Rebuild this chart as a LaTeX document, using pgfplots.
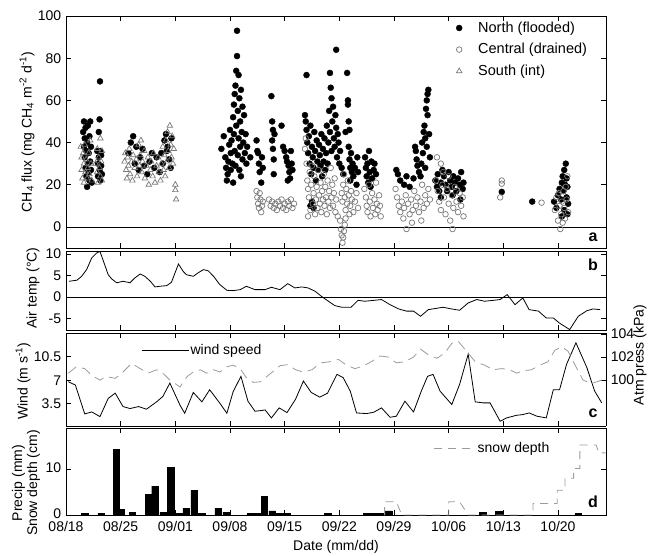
\documentclass[border=0pt]{standalone}
\usepackage{fontspec}
\setmainfont{Liberation Sans}
\usepackage{pgfplots}
\pgfplotsset{compat=1.18}

\definecolor{cgray}{RGB}{120,120,120}
\definecolor{pgray}{RGB}{155,155,155}

\pgfplotsset{
  panel/.style={
    scale only axis, width=540bp,
    xmin=0, xmax=69.15,
    xtick={0,7,...,63}, xticklabels={},
    tick align=inside, major tick length=5bp,
    axis line style={line width=0.9bp},
    every tick/.style={black, line width=0.8bp},
    /pgf/number format/assume math mode=true,
    clip=false,
  },
  zeroline/.style={extra y ticks={0}, extra y tick labels={},
    extra y tick style={grid=major, major grid style={black, line width=0.8bp}}},
}

\begin{document}
\fontsize{14bp}{16bp}\selectfont
\begin{tikzpicture}
\useasboundingbox (0bp,0bp) rectangle (651bp,-556bp);

% ---------- a: CH4 flux ----------
\begin{axis}[panel, at={(66bp,-16bp)}, anchor=north west, height=232bp,
  ymin=-10, ymax=100, ytick={0,20,...,100}, zeroline,
  legend style={at={(rel axis cs:0.70,0.985)}, anchor=north west, draw=none, fill=none,
    inner sep=0pt, row sep=5bp, nodes={inner sep=2bp}, font=\fontsize{14.5bp}{16bp}\selectfont},
  legend cell align=left,
  legend image code/.code={\path[draw=none] (0bp,0bp) (32bp,0bp); \draw[#1] plot coordinates {(15bp,0bp)};}]
\addplot[only marks, mark=*, mark size=3bp, black] coordinates {
(2.2,45)(2.3,50)(2.3,38)(2.4,42)(2.4,33)(2.5,47)(2.5,28)(2.6,36)(2.6,24)(2.7,40)(2.7,19)(2.8,30)(2.8,48)(2.9,26)(2.9,35)(3.0,22)(3.0,43)(3.1,31)(3.1,50)(3.2,27)(3.2,38)(3.3,21)
(4.0,36)(4.1,30)(4.1,24)(4.2,45)(4.2,33)(4.3,27)(4.3,51)(4.35,69)(4.4,22)(4.4,36)(4.5,29)(4.5,34)(4.6,25)
(8.0,35)(8.3,40)(8.6,43)(8.8,30)(9.0,38)(9.3,27)(9.5,33)(9.8,37)(10.0,29)(10.4,25)(10.7,31)(11.0,35)(11.3,28)(11.6,33)(12.0,26)(12.2,35)(12.4,30)(12.6,41)(12.8,44)(12.9,36)(13.0,38)(13.2,32)(13.4,28)(13.5,42)
(19.9,37)(20.2,43)(20.4,33)(20.5,28)(20.6,22)(20.7,25)(20.8,31)(20.9,39)(21.0,46)(21.1,35)(21.1,27)(21.2,41)(21.3,30)(21.4,52)(21.4,21)(21.5,58)(21.5,44)(21.6,63)(21.6,36)(21.7,67)(21.7,29)(21.8,74)(21.8,48)(21.9,81)(21.9,93)(22.0,55)(22.0,34)(22.1,72)(22.1,42)(22.2,61)(22.2,27)(22.3,50)(22.3,38)(22.4,65)(22.4,24)(22.5,45)(22.6,57)(22.6,32)(22.7,40)(22.8,53)(22.9,35)(23.0,44)(23.1,30)(23.2,38)
(23.6,33)
(24.4,41)(24.5,36)(24.6,35)(24.7,30)(24.8,26)(25.0,21)(25.1,33)(25.2,28)
(26.3,62)(26.4,50)(26.4,41)(26.5,46)(26.5,37)(26.6,32)(26.6,25)(26.7,44)
(27.6,48)(27.8,38)(28.0,36)(28.2,33)(28.3,31)(28.5,29)(28.6,26)(28.7,23)(28.8,36)(28.9,30)(29.0,27)(28.4,22)
(30.8,72)(30.6,53)(30.7,50)(30.8,46)(30.9,40)(31.0,35)(31.1,43)(31.2,30)(31.3,48)(31.4,25)(31.5,38)(31.6,33)(31.7,28)(31.8,45)(31.9,36)(32.0,22)(32.1,41)(32.2,31)(32.3,27)(32.4,39)(32.5,34)(32.6,29)(32.7,44)(32.8,24)(32.9,37)(33.0,31)(33.1,42)(33.2,27)(33.3,35)(33.4,48)(33.5,30)(33.6,40)(33.7,55)(33.8,73)(33.8,45)(33.9,66)(34.0,61)(34.0,36)(34.1,50)(34.2,57)(34.3,42)(34.4,38)(34.5,53)(34.6,84)(34.6,47)(34.7,33)(34.8,44)(34.9,40)(35.0,30)(35.1,36)(35.3,28)(35.5,25)(35.8,45)(36.0,73)(36.1,60)(36.1,58)(36.2,50)(36.2,38)(36.3,32)(36.3,46)(36.4,28)(36.4,22)(36.5,35)(36.6,26)(36.7,30)(36.8,24)(37.0,28)(37.2,20)(37.3,33)(37.4,26)
(31.3,10)(31.5,12)(31.7,9)
(38.3,33)(38.4,28)(38.5,24)(38.6,30)(38.7,21)(38.8,36)(38.9,26)(39.0,19)(39.1,31)(39.2,23)(39.4,27)(39.5,30)(39.7,25)
(42.3,27)(42.5,25)(42.8,22)(43.3,20)(43.6,24)(44.0,19)(44.5,23)(44.7,38)(44.8,36)(44.9,32)(45.0,29)(45.2,26)(45.4,24)(45.5,30)(45.6,40)(45.7,35)(45.8,45)(45.9,48)(46.0,42)(46.1,56)(46.2,60)(46.3,63)(46.4,65)(46.3,53)(46.5,44)(46.6,33)(46.0,28)(46.2,38)
(47.3,22)(47.5,19)(47.6,25)(47.8,17)(48.0,21)(48.2,27)(48.4,24)(48.6,20)(48.8,17)(49.0,26)(49.2,22)(49.4,19)(49.6,24)(49.8,21)(50.0,17)(50.2,23)(50.4,20)(50.6,26)(50.8,18)(50.9,21)(48.0,14)(49.5,15)(50.5,13)
(55.8,16.6)(59.7,12)
(62.5,12)(62.8,9)(63.0,15)(63.2,18)(63.4,13)(63.5,21)(63.6,24)(63.7,17)(63.8,27)(63.9,20)(64.0,30)(64.1,23)(64.1,14)(64.2,19)(64.2,6)(64.3,11)(63.5,5)(63.8,8)
};
\addlegendentry{North (flooded)}
\addplot[only marks, mark=o, mark size=2.8bp, cgray, line width=0.7bp] coordinates {
(24.4,17)(24.5,14)(24.6,11)(24.7,9)(24.8,16)(24.9,13)(25.0,7)(25.1,10)(25.2,12)
(26.0,13)(26.2,10)(26.4,12)(26.6,9)(26.8,11)(27.0,8)(27.2,12)(27.4,10)(27.6,13)(27.8,9)(28.0,11)(28.2,8)(28.4,12)(28.6,10)(28.8,13)(29.0,9)(29.2,11)
(30.6,37)(30.7,42)(30.8,30)(30.9,22)(31.0,18)(31.0,5)(31.1,14)(31.2,26)(31.3,8)(31.4,20)(31.5,29)(31.6,11)(31.7,16)(31.8,24)(31.9,6)(32.0,13)(32.1,19)(32.2,9)(32.3,27)(32.4,15)(32.5,11)(32.6,21)(32.7,7)(32.8,17)(32.9,13)(33.0,25)(33.1,10)(33.2,19)(33.3,14)(33.4,6)(33.5,22)(33.6,12)(33.7,17)(33.8,9)(33.9,28)(34.0,14)(34.1,20)(34.2,10)(34.3,16)(34.4,23)(34.5,7)(34.6,13)(34.8,5)
(35.1,3)(35.2,-1)(35.3,-4)(35.4,-7.5)(35.5,-5)(35.6,-2)(35.7,1)(35.8,4)
(35.3,16)(35.4,12)(35.5,20)(35.6,25)(35.7,14)(35.8,8)(35.9,18)(36.0,11)(36.1,22)(36.2,15)(36.3,6)(36.4,10)(36.5,17)(36.6,13)(36.8,7)(37.0,12)(37.2,16)(37.4,9)
(38.2,18)(38.4,14)(38.5,10)(38.6,7)(38.8,20)(38.9,12)(39.0,5)(39.2,16)(39.3,9)(39.5,13)(39.6,6)(39.8,11)(39.9,8)(40.1,15)(40.2,10)(40.3,5)(39.7,21)
(42.2,18)(42.4,14)(42.6,10)(42.8,7)(43.0,12)(43.2,4)(43.3,9)(43.5,15)(43.6,-1)(43.8,11)(44.0,6)(44.2,13)(44.4,8)(44.6,17)(44.8,10)(45.0,14)(45.2,7)(45.4,12)(45.6,20)(45.8,9)(46.0,15)(46.2,11)(46.4,18)(46.6,13)(45.5,3)(44.3,2)
(47.5,33)(48.0,30)(47.4,22)(47.6,17)(47.8,12)(48.0,8)(48.2,20)(48.4,14)(48.6,6)(48.8,18)(49.0,11)(49.2,3)(49.4,15)(49.5,-1)(49.6,9)(49.8,19)(50.0,12)(50.2,7)(50.4,16)(50.6,10)(50.8,14)(50.9,5)(49.0,24)(48.3,26)
(55.8,22)(55.8,20.5)(55.6,14)(60.9,11.5)
(62.6,8)(62.8,14)(63.0,3)(63.2,10)(63.3,-1)(63.4,6)(63.5,12)(63.6,2)(63.7,17)(63.8,9)(63.9,4)(64.0,19)(64.1,13)(64.2,24)(64.3,7)(63.1,16)
};
\addlegendentry{Central (drained)}
\addplot[only marks, mark=triangle, mark size=3.2bp, cgray, line width=0.7bp] coordinates {
(1.9,38)(2.0,33)(2.0,27)(2.1,23)(2.2,35)(2.3,30)(2.3,21)(2.4,39)(2.5,26)(2.6,32)(2.7,23)(2.8,28)(2.9,35)(3.0,25)(3.1,41)(3.2,30)(3.3,22)(3.8,30)(4.0,26)(4.0,37)(4.1,21)(4.2,33)(4.3,28)(4.4,24)(4.5,31)(4.6,36)(4.6,22)(4.4,42)
(7.5,31)(7.6,35)(7.7,27)(7.8,23)(7.9,33)(8.0,29)(8.1,37)(8.2,25)(8.4,31)(8.5,22)(8.6,34)(8.8,28)(9.0,32)(9.1,24)(9.3,39)(9.4,29)(9.5,34)(9.6,41)(9.7,26)(9.8,31)(10.0,36)(10.1,23)(10.3,29)(10.5,33)(10.6,20)(10.8,27)(10.9,31)(11.1,24)(11.2,35)(11.4,21)(11.6,29)(11.8,33)(11.9,26)(12.1,22)(12.2,30)(12.4,38)(12.5,27)(12.6,34)(12.7,24)(12.8,41)(12.9,31)(13.0,45)(13.1,36)(13.2,28)(13.3,48)(13.4,39)(13.5,33)(13.6,43)(13.7,30)(13.8,37)
(14.0,20)(14.0,17.5)(14.1,13)
};
\addlegendentry{South (int)}
\node[font=\bfseries\fontsize{16bp}{18bp}\selectfont] at (rel axis cs:0.976,0.047) {a};
\end{axis}

% ---------- b: air temperature ----------
\begin{axis}[panel, at={(66bp,-251bp)}, anchor=north west, height=79bp,
  ymin=-7.7, ymax=10.7, ytick={-5,0,5,10}, zeroline]
\addplot[black, line width=0.8bp] coordinates {
(0.4,3.65)(1.4,3.9)(2.0,4.8)(2.65,6.4)(3.3,9.1)(3.9,10.2)(4.35,10.6)(4.8,8.3)(5.4,5.2)(5.85,4.2)(6.5,3.3)(7.3,3.65)(8.2,3.3)(8.8,4.4)(9.5,5.35)(10.1,4.8)(10.8,3.65)(11.4,2.33)(12.0,2.48)(12.9,2.64)(13.5,3.41)(14.4,7.67)(15.0,5.97)(15.4,5.2)(16.3,4.8)(16.9,5.6)(17.6,6.36)(18.2,6.1)(18.9,4.8)(19.7,2.87)(20.6,1.55)(21.4,1.47)(22.3,1.7)(23.1,2.48)(24.2,1.7)(25.5,1.7)(26.3,2.25)(27.4,1.7)(28.4,3.1)(29.3,2.1)(30.2,2.33)(31.0,2.1)(31.9,1.32)(32.7,0.16)(33.6,-1.0)(34.4,-2.0)(35.3,-2.4)(36.5,-2.4)(37.4,-0.8)(38.3,-1.0)(39.4,-0.8)(40.4,-0.6)(41.5,-1.8)(42.6,-2.8)(43.6,-3.3)(44.5,-3.3)(45.4,-4.5)(46.4,-2.95)(48.3,-2.4)(49.4,-2.8)(50.4,-3.1)(51.5,-1.4)(52.6,-0.6)(53.6,-1.0)(54.7,-0.8)(55.6,-0.6)(56.5,0.54)(57.5,-1.8)(58.5,-0.23)(59.3,-2.95)(60.5,-3.3)(61.5,-4.9)(62.4,-4.9)(63.2,-6.1)(64.5,-7.6)(65.6,-4.5)(66.7,-3.2)(67.5,-2.8)(68.4,-2.95)
};
\node[font=\bfseries\fontsize{16bp}{18bp}\selectfont] at (rel axis cs:0.976,0.82) {b};
\end{axis}

% ---------- c: wind speed (left) ----------
\begin{axis}[panel, at={(66bp,-333bp)}, anchor=north west, height=93bp,
  ymin=0.2, ymax=14.06, ytick={3.5,7,10.5}, axis y line*=left,
  legend style={at={(rel axis cs:0.139,0.817)}, anchor=west, draw=none, fill=none,
    inner sep=0pt, nodes={inner sep=1.5bp}},
  legend image code/.code={\draw[#1] (0bp,0bp) -- (47bp,0bp);}]
\addplot[black, line width=0.8bp] coordinates {
(0.3,6.8)(1.2,6.3)(2.4,2.0)(3.3,2.3)(4.35,1.6)(5.4,4.3)(6.3,5.1)(7.3,3.1)(8.2,2.8)(9.3,3.1)(10.3,2.7)(11.6,3.8)(12.4,4.6)(13.3,6.6)(14.6,3.3)(15.2,2.1)(16.3,5.2)(17.4,3.8)(18.4,5.6)(19.7,3.6)(20.6,2.1)(21.4,5.3)(22.4,7.6)(23.3,3.9)(24.2,2.4)(25.0,2.5)(25.5,2.6)(26.3,1.4)(27.3,2.9)(28.3,2.2)(29.4,4.2)(30.4,6.9)(31.4,5.2)(32.5,4.5)(33.5,5.1)(34.7,7.9)(35.5,7.4)(36.4,5.4)(37.2,2.15)(38.5,2.05)(39.4,2.25)(40.4,2.9)(41.5,1.5)(42.3,1.66)(43.4,3.9)(44.5,2.3)(45.5,5.4)(46.3,7.6)(47.0,7.9)(47.9,5.4)(49.4,3.4)(50.4,6.4)(51.5,10.9)(52.4,3.8)(53.4,3.65)(54.3,3.65)(55.6,0.9)(56.4,1.4)(57.7,1.8)(58.5,1.9)(59.3,2.15)(60.3,1.66)(61.5,1.41)(62.4,5.6)(63.2,5.6)(64.1,9.4)(65.3,12.6)(66.7,8.9)(67.7,5.4)(68.6,3.65)
};
\addlegendentry{wind speed}
\node[font=\bfseries\fontsize{16bp}{18bp}\selectfont] at (rel axis cs:0.976,0.14) {c};
\end{axis}

% ---------- c: atmospheric pressure (right) ----------
\begin{axis}[panel, at={(66bp,-333bp)}, anchor=north west, height=93bp,
  ymin=96, ymax=104.1, ytick={100,102,104}, axis y line*=right, axis x line=none]
\addplot[pgray, line width=0.8bp, dash pattern=on 10bp off 6bp] coordinates {
(0.3,100.6)(1.3,101.15)(2.4,101.0)(3.3,100.4)(4.35,100.0)(5.2,100.3)(6.3,100.15)(7.3,100.7)(8.4,101.45)(9.5,101.0)(10.5,100.6)(11.6,100.9)(12.4,100.6)(13.3,100.0)(14.6,99.4)(15.5,100.3)(16.3,100.7)(17.2,100.9)(18.0,100.6)(18.9,100.9)(19.7,100.7)(20.6,101.15)(21.4,101.3)(22.3,101.0)(23.1,100.2)(24.0,99.8)(24.9,99.85)(25.7,100.3)(26.6,100.8)(27.4,101.25)(28.4,101.35)(29.4,100.9)(30.4,100.7)(31.5,100.9)(32.6,101.5)(33.8,101.6)(34.9,101.8)(35.9,101.3)(37.0,101.0)(38.0,101.2)(39.1,101.6)(40.2,102.1)(41.3,102.0)(42.3,101.5)(43.4,101.6)(44.5,102.0)(45.4,102.7)(46.4,102.2)(47.5,101.9)(48.5,102.35)(49.4,103.2)(50.2,103.4)(51.3,102.5)(52.4,101.6)(53.6,101.3)(54.7,100.9)(55.8,101.0)(56.8,100.9)(57.7,100.6)(58.5,100.8)(59.6,100.9)(60.7,101.3)(61.7,101.6)(62.6,102.6)(63.5,102.9)(64.3,102.5)(65.2,101.3)(66.2,100.0)(67.3,99.7)(68.6,100.0)
};
\end{axis}

% ---------- d: precipitation and snow depth ----------
\begin{axis}[panel, at={(66bp,-428bp)}, anchor=north west, height=87bp,
  ymin=0, ymax=18.9, ytick={0,10},
  xticklabels={08/18,08/25,09/01,09/08,09/15,09/22,09/29,10/06,10/13,10/20},
  xticklabel style={yshift=-1.5bp},
  yticklabel style={yshift=1bp},
  legend style={at={(rel axis cs:0.68,0.77)}, anchor=west, draw=none, fill=none,
    inner sep=0pt, nodes={inner sep=1.5bp}},
  legend image code/.code={\draw[#1] (0bp,0bp) -- (42bp,0bp);}]
\addplot[ybar, bar width=0.85, fill=black, draw=black, forget plot] coordinates {
(2.4,0.35)(4.5,0.35)(6.45,14.3)(7.05,1.2)(8.5,0.6)(10.55,4.5)(11.4,6.3)(12.45,0.6)(13.4,10.4)(14.4,0.3)(15.4,1.45)(16.4,5.3)(17.4,0.3)(19.5,1.45)(20.5,0.6)(23.6,0.3)(24.5,0.3)(25.4,4.1)(26.4,0.9)(27.4,0.3)(28.3,0.3)(33.5,0.3)(38.5,0.3)(39.5,0.3)(40.4,0.4)(41.3,0.9)(53.4,0.6)(55.4,0.8)(65.6,0.3)
};
\addplot[pgray, line width=0.8bp, dash pattern=on 8bp off 6bp] coordinates {
(40.8,0)(40.8,2.9)(42.3,2.9)(43.0,0)(49.0,0)(49.0,2.9)(50.4,2.9)(51.5,0)(59.8,0)(59.8,2.5)(62.9,2.5)(62.9,5.4)(63.9,5.4)(63.9,8.0)(65.0,8.0)(65.0,10.1)(65.8,10.1)(65.8,15.2)(67.9,15.2)(68.2,13.5)(69.1,13.5)
};
\addlegendentry{snow depth}
\node[font=\bfseries\fontsize{16bp}{18bp}\selectfont] at (rel axis cs:0.976,0.15) {d};
\end{axis}

% ---------- axis titles ----------
\node[rotate=90] at (27bp,-132bp) {CH\textsubscript{4} flux (mg CH\textsubscript{4} m\textsuperscript{-2} d\textsuperscript{-1})};
\node[rotate=90] at (33bp,-288bp) {Air temp (°C)};
\node[rotate=90] at (23bp,-381bp) {Wind (m s\textsuperscript{-1})};
\node[rotate=90, align=center, inner sep=0pt] at (26bp,-483bp) {Precip (mm)\\[-1bp]Snow depth (cm)};
\node[rotate=90] at (640bp,-355bp) {Atm press (kPa)};
\node at (336bp,-547bp) {Date (mm/dd)};
\end{tikzpicture}
\end{document}
